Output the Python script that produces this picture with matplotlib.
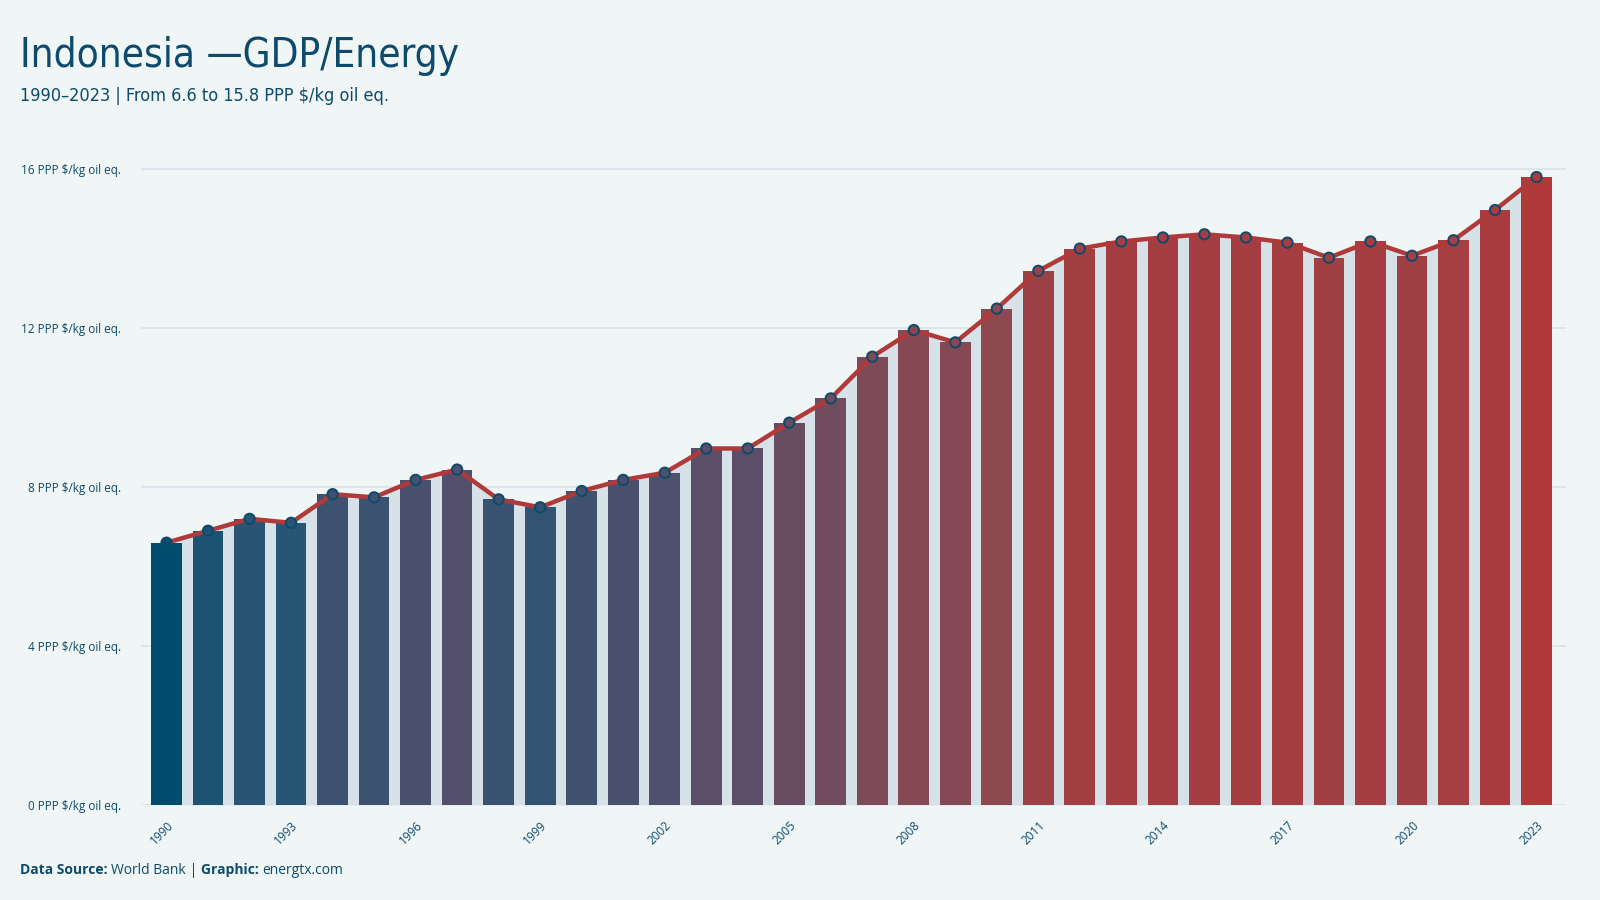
import matplotlib
matplotlib.use("Agg")
import matplotlib.pyplot as plt
from matplotlib import font_manager
from matplotlib.colors import LinearSegmentedColormap, Normalize

# GDP per unit of energy use, Indonesia (PPP $ per kg of oil equivalent)
years = list(range(1990, 2024))
values = [6.6, 6.9, 7.2, 7.1, 7.82, 7.74, 8.18, 8.44, 7.69, 7.49,
          7.9, 8.18, 8.36, 8.97, 8.97, 9.62, 10.23, 11.28, 11.95, 11.64,
          12.49, 13.44, 14.0, 14.18, 14.28, 14.36, 14.28, 14.15, 13.77, 14.18,
          13.82, 14.21, 14.97, 15.8]
y_ticks = [0, 4, 8, 12, 16]
x_ticks = years[::3]

BG = "#f0f5f5"
NAVY = "#0d4a6b"
RED = "#b03a3a"
AREA = "#d6e2e7"
GRID = "#d8e3e8"

cmap = LinearSegmentedColormap.from_list("bluered", [
    (0.0, "#004c6d"), (0.04, "#245575"), (0.13, "#3d5270"),
    (0.2, "#534f6c"), (0.33, "#684d62"), (0.5, "#7e4a58"),
    (0.64, "#8e4850"), (0.78, "#a04044"), (0.91, "#aa3c40"),
    (1.0, "#b03a3a")])
norm = Normalize(min(values), max(values))
bar_colors = [cmap(norm(v)) for v in values]


def _is_regular(f):
    return f.weight in (400, "normal", "regular", "book") and f.style == "normal"


# pick a regular condensed face for the headline if one is installed
cond = [f for f in font_manager.fontManager.ttflist
        if ("ondensed" in f.fname or f.stretch in ("condensed", "semi-condensed"))
        and _is_regular(f)]
cond.sort(key=lambda f: ("DejaVu" not in f.name, f.fname))
if cond:
    head_prop = font_manager.FontProperties(fname=cond[0].fname)
    title_size, sub_size = 29, 13
else:
    head_prop = font_manager.FontProperties(family="DejaVu Sans")
    title_size, sub_size = 26, 12

fig = plt.figure(figsize=(16, 9), dpi=100, facecolor=BG)
ax = fig.add_axes([0.088, 0.1056, 0.891, 0.733], facecolor=BG)

ax.fill_between(years, values, 0, color=AREA, zorder=1, linewidth=0)
ax.bar(years, values, width=0.74, color=bar_colors, zorder=2)
ax.plot(years, values, color=RED, linewidth=3.2, zorder=3)
ax.scatter(years, values, s=55, c=bar_colors, edgecolors=NAVY,
           linewidths=1.4, zorder=4)

ax.set_xlim(1990 - 0.62, 2023 + 0.72)
ax.set_ylim(0, 16.6)
ax.set_yticks(y_ticks)
ax.set_yticklabels([f"{t} PPP $/kg oil eq." for t in y_ticks])
ax.set_xticks(x_ticks)
ax.set_xticklabels([str(y) for y in x_ticks], rotation=45,
                   ha="right", rotation_mode="anchor")
ax.tick_params(axis="both", length=0, colors=NAVY, labelsize=8.5)
ax.tick_params(axis="y", pad=14)
ax.tick_params(axis="x", pad=10)
for lab in ax.get_xticklabels() + ax.get_yticklabels():
    lab.set_fontfamily("Open Sans")
ax.grid(axis="y", color=GRID, linewidth=1.2, zorder=0)
ax.set_axisbelow(True)
for s in ax.spines.values():
    s.set_visible(False)

t1 = fig.text(0.0125, 0.925, "Indonesia \u2014GDP/Energy",
              color=NAVY, fontproperties=head_prop, va="baseline")
t1.set_fontsize(title_size)
t2 = fig.text(0.0125, 0.888, "1990\u20132023 | From 6.6 to 15.8 PPP $/kg oil eq.",
              color=NAVY, fontproperties=head_prop, va="baseline")
t2.set_fontsize(sub_size)

# footer with mixed weights
fig.canvas.draw()
renderer = fig.canvas.get_renderer()
x = 0.0125
parts = [("Data Source: ", "bold"), ("World Bank", "normal"),
         (" | ", "normal"), ("Graphic: ", "bold"), ("energtx.com", "normal")]
for txt, w in parts:
    t = fig.text(x, 0.029, txt, fontsize=10, color=NAVY, weight=w,
                 family="Open Sans", va="baseline")
    bb = t.get_window_extent(renderer)
    x += bb.width / fig.bbox.width

fig.savefig("out.png", dpi=100, facecolor=BG)
